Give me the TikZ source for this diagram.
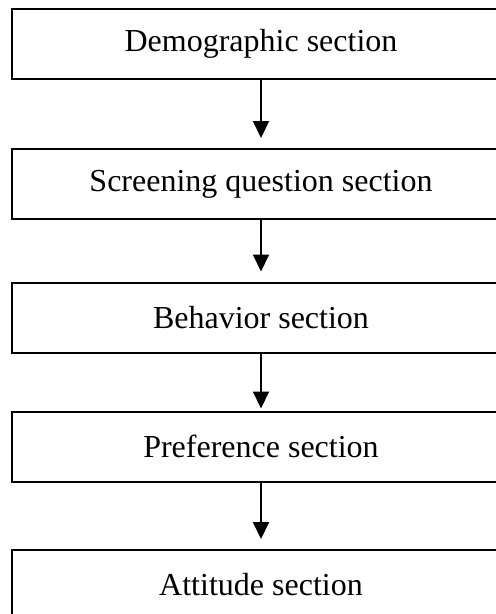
\documentclass[tikz,border=0pt]{standalone}
\usepackage{fontspec}
\setmainfont{Liberation Serif}
\usetikzlibrary{arrows.meta}

\begin{document}
\begin{tikzpicture}[x=1pt,y=-1pt,
	sectionbox/.style={draw, line width=2pt, minimum width=498pt, minimum height=70pt, inner sep=0pt, font=\fontsize{32}{38}\selectfont},
	flowarrow/.style={line width=2pt, -{Triangle[width=16pt,length=17pt]}}]
	\useasboundingbox (0,0) rectangle (496,614);
	\clip (0,0) rectangle (496,614);
	
	\node[sectionbox] (demo) at (261,44){Demographic section};
	\node[sectionbox] (screen) at (261,184){Screening question section};
	\node[sectionbox] (behav) at (261,317.5){Behavior section};
	\node[sectionbox] (pref) at (261,446.5){Preference section};
	\node[sectionbox] (att) at (261,585){Attitude section};
	
	\draw[flowarrow] (demo.south)--([yshift=10pt]screen.north);
	\draw[flowarrow] (screen.south)--([yshift=10pt]behav.north);
	\draw[flowarrow] (behav.south)--([yshift=2pt]pref.north);
	\draw[flowarrow] (pref.south)--([yshift=10pt]att.north);
\end{tikzpicture}
\end{document}
